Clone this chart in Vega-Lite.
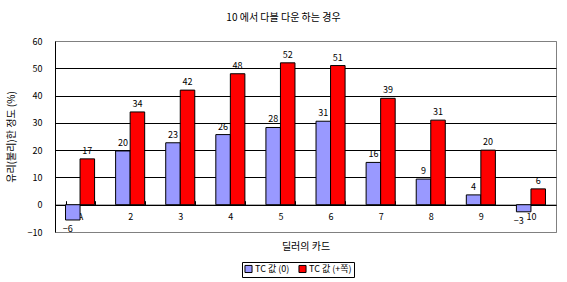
{
  "$schema": "https://vega.github.io/schema/vega-lite/v6.json",
  "width": 501,
  "height": 191,
  "autosize": {"type": "none"},
  "padding": {"left": 55, "top": 41, "right": 11, "bottom": 50},
  "background": "white",
  "title": {
    "text": "10 에서 다블 다운 하는 경우",
    "fontSize": 10,
    "fontWeight": "normal",
    "font": "Noto Sans CJK KR",
    "color": "black",
    "anchor": "middle",
    "dx": -22,
    "offset": 14
  },
  "config": {
    "view": {"stroke": "#808080", "strokeWidth": 1},
    "font": "Noto Sans CJK KR",
    "text": {"font": "Noto Sans CJK KR", "fontSize": 9, "color": "black"}
  },
  "data": {
    "values": [
      {"card": "A", "series": "TC 값 (0)", "value": -5.6},
      {"card": "2", "series": "TC 값 (0)", "value": 19.7},
      {"card": "3", "series": "TC 값 (0)", "value": 22.7},
      {"card": "4", "series": "TC 값 (0)", "value": 25.7},
      {"card": "5", "series": "TC 값 (0)", "value": 28.3},
      {"card": "6", "series": "TC 값 (0)", "value": 30.6},
      {"card": "7", "series": "TC 값 (0)", "value": 15.5},
      {"card": "8", "series": "TC 값 (0)", "value": 9.4},
      {"card": "9", "series": "TC 값 (0)", "value": 3.6},
      {"card": "10", "series": "TC 값 (0)", "value": -2.6},
      {"card": "A", "series": "TC 값 (+쪽)", "value": 16.8},
      {"card": "2", "series": "TC 값 (+쪽)", "value": 34},
      {"card": "3", "series": "TC 값 (+쪽)", "value": 42},
      {"card": "4", "series": "TC 값 (+쪽)", "value": 48},
      {"card": "5", "series": "TC 값 (+쪽)", "value": 52},
      {"card": "6", "series": "TC 값 (+쪽)", "value": 51},
      {"card": "7", "series": "TC 값 (+쪽)", "value": 39},
      {"card": "8", "series": "TC 값 (+쪽)", "value": 31},
      {"card": "9", "series": "TC 값 (+쪽)", "value": 20},
      {"card": "10", "series": "TC 값 (+쪽)", "value": 5.8}
    ]
  },
  "encoding": {
    "x": {
      "field": "card",
      "type": "nominal",
      "sort": ["A", "2", "3", "4", "5", "6", "7", "8", "9", "10"],
      "scale": {"paddingInner": 0.42, "paddingOuter": 0.21},
      "axis": {
        "title": "딜러의 카드",
        "titleFontSize": 10,
        "titleFontWeight": "normal",
        "titleColor": "black",
        "titlePadding": 20,
        "labelAngle": 0,
        "labelFontSize": 9,
        "labelColor": "black",
        "labelPadding": 12,
        "offset": -27.3,
        "domainColor": "black",
        "tickColor": "black",
        "tickSize": -4,
        "tickBand": "extent",
        "grid": false
      }
    },
    "xOffset": {"field": "series", "type": "nominal", "sort": ["TC 값 (0)", "TC 값 (+쪽)"]},
    "y": {
      "field": "value",
      "type": "quantitative",
      "scale": {"domain": [-10, 60], "nice": false, "zero": false},
      "axis": {
        "title": "유리(불리)한 정도 (%)",
        "titleFontSize": 10,
        "titleFontWeight": "normal",
        "titleColor": "black",
        "titlePadding": 11,
        "values": [-10, 0, 10, 20, 30, 40, 50, 60],
        "labelFontSize": 9,
        "labelColor": "black",
        "labelPadding": 13,
        "tickSize": 0,
        "domainColor": "black",
        "grid": true,
        "gridColor": {"condition": {"test": "datum.value == 60 || datum.value == -10", "value": "#808080"}, "value": "black"},
        "gridOpacity": 1
      }
    }
  },
  "layer": [
    {
      "mark": {"type": "bar", "stroke": "black", "strokeWidth": 1},
      "encoding": {
        "color": {
          "field": "series",
          "type": "nominal",
          "sort": ["TC 값 (0)", "TC 값 (+쪽)"],
          "scale": {"domain": ["TC 값 (0)", "TC 값 (+쪽)"], "range": ["#9999FF", "#FF0000"]},
          "legend": {
            "title": null,
            "orient": "none",
            "legendX": 187,
            "legendY": 221,
            "direction": "horizontal",
            "strokeColor": "black",
            "padding": 2,
            "symbolType": "square",
            "symbolSize": 50,
            "symbolStrokeColor": "black",
            "symbolStrokeWidth": 1,
            "labelFontSize": 9,
            "labelColor": "black",
            "columnPadding": 6,
            "labelOffset": 2
          }
        }
      }
    },
    {
      "transform": [{"filter": "datum.value >= 0"}],
      "mark": {"type": "text", "baseline": "bottom", "dy": -3},
      "encoding": {"text": {"field": "value", "type": "quantitative", "format": ".0f"}}
    },
    {
      "transform": [{"filter": "datum.value < 0"}],
      "mark": {"type": "text", "baseline": "top", "dy": 5, "dx": -5},
      "encoding": {"text": {"field": "value", "type": "quantitative", "format": ".0f"}}
    }
  ]
}
